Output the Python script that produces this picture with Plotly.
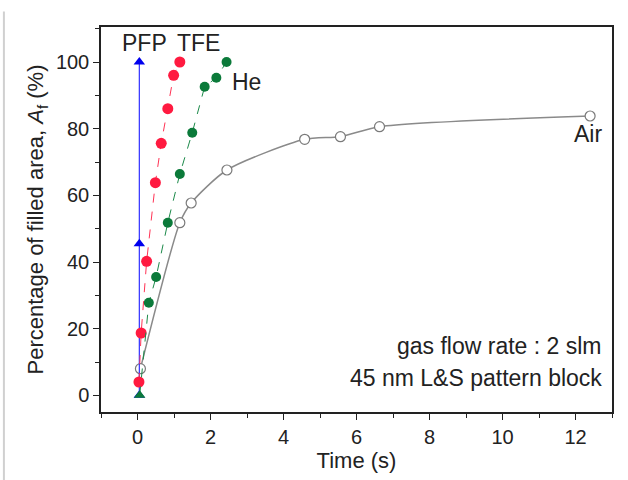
import plotly.graph_objects as go

# Data (time in s, filled area in %)
pfp_t = [0.05, 0.05, 0.05]
pfp_a = [0.0, 45.5, 100.0]

tfe_t = [0.04, 0.10, 0.25, 0.49, 0.65, 0.83, 0.99, 1.16]
tfe_a = [4.0, 18.7, 40.2, 63.8, 75.6, 86.0, 96.0, 100.0]

he_t = [0.06, 0.31, 0.51, 0.83, 1.16, 1.50, 1.84, 2.16, 2.44]
he_a = [0.0, 27.8, 35.5, 51.8, 66.4, 78.8, 92.6, 95.3, 100.0]

air_t = [0.08, 1.16, 1.47, 2.45, 4.58, 5.56, 6.63, 12.4]
air_a = [8.0, 51.8, 57.7, 67.6, 76.8, 77.6, 80.6, 83.8]

x_ticks = [0, 2, 4, 6, 8, 10, 12]
y_ticks = [0, 20, 40, 60, 80, 100]

FONT = "Liberation Sans, Arial, sans-serif"

fig = go.Figure()

fig.add_trace(go.Scatter(
    x=air_t, y=air_a, mode="lines+markers",
    line=dict(color="#8a8a8a", width=1.5, shape="spline", smoothing=0.7),
    marker=dict(symbol="circle", size=10, color="white",
                line=dict(color="#7a7a7a", width=1.2)),
    showlegend=False))

fig.add_trace(go.Scatter(
    x=pfp_t, y=pfp_a, mode="lines+markers",
    line=dict(color="#3030ff", width=1.2),
    marker=dict(symbol="triangle-up", size=10, color="#0000ee"),
    showlegend=False))

fig.add_trace(go.Scatter(
    x=tfe_t, y=tfe_a, mode="lines+markers",
    line=dict(color="#ff3355", width=1, dash="dash"),
    marker=dict(symbol="circle", size=11, color="#ff1a40"),
    showlegend=False))

fig.add_trace(go.Scatter(
    x=he_t, y=he_a, mode="lines+markers",
    line=dict(color="#1c8a4a", width=1, dash="dash"),
    marker=dict(symbol=["triangle-up"] + ["circle"] * (len(he_t) - 1),
                size=10, color="#0b7a3a"),
    showlegend=False))

ann_font = dict(family=FONT, size=23, color="#222")
fig.add_annotation(x=0.2, y=105.8, text="PFP", showarrow=False, font=ann_font)
fig.add_annotation(x=1.66, y=105.8, text="TFE", showarrow=False, font=ann_font)
fig.add_annotation(x=2.98, y=94.0, text="He", showarrow=False, font=ann_font)
fig.add_annotation(x=12.35, y=78.3, text="Air", showarrow=False, font=ann_font)
fig.add_annotation(x=0.985, xref="paper", y=14.7, text="gas flow rate : 2 slm",
                   xanchor="right", showarrow=False, font=ann_font)
fig.add_annotation(x=0.985, xref="paper", y=5.2, text="45 nm L&S pattern block",
                   xanchor="right", showarrow=False, font=ann_font)

# scan border line on the far left
fig.add_shape(type="line", xref="paper", yref="paper",
              x0=-0.19, x1=-0.19, y0=-0.18, y1=1.04,
              line=dict(color="#d0d0d0", width=2))

axis_common = dict(
    showgrid=False, zeroline=False, showline=True, linecolor="#222",
    linewidth=1.5, mirror=True, ticks="outside", ticklen=6, tickwidth=1.3,
    tickcolor="#222", tickfont=dict(family=FONT, size=20, color="#222"),
)

fig.update_xaxes(
    range=[-1, 13], tickvals=x_ticks, ticktext=[str(v) for v in x_ticks],
    minor=dict(dtick=1, ticks="outside", ticklen=4, tickcolor="#222", tickwidth=1.2),
    title=dict(text="Time (s)", font=dict(family=FONT, size=22, color="#222"),
               standoff=6),
    **axis_common)

fig.update_yaxes(
    range=[-5, 110.5], tickvals=y_ticks, ticktext=[str(v) for v in y_ticks],
    minor=dict(dtick=10, ticks="outside", ticklen=4, tickcolor="#222", tickwidth=1.2),
    title=dict(text="Percentage of filled area, <i>A</i><sub>f</sub> (%)",
               font=dict(family=FONT, size=22, color="#222"), standoff=6),
    **axis_common)

fig.update_layout(
    width=628, height=480,
    margin=dict(l=101, r=16, t=27, b=68),
    paper_bgcolor="white", plot_bgcolor="white",
)

fig.write_html("out.html")
